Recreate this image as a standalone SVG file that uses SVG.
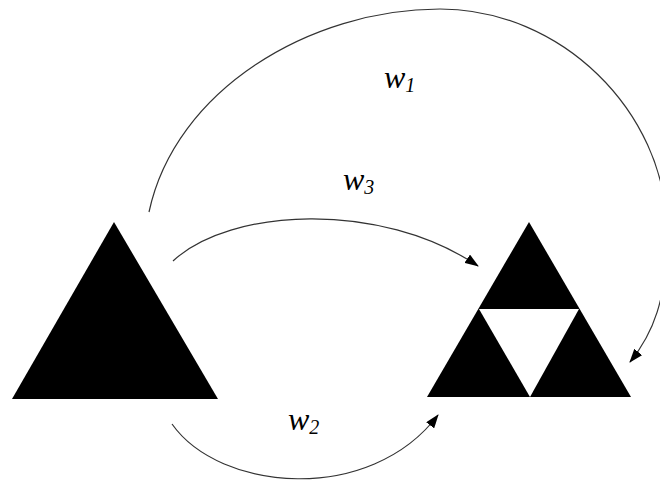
<svg xmlns="http://www.w3.org/2000/svg" width="660" height="484" viewBox="0 0 660 484">
<style>
.tri{fill:#000}
.hole{fill:#fff}
.conn{fill:none;stroke:#333;stroke-width:1.2}
.lbl{font-family:"Liberation Serif",serif;font-style:italic;fill:#000}
.w{font-size:32px}
.sub{font-size:20px}
</style>
<defs>
<marker id="ah" viewBox="0 0 14 10" refX="13" refY="5" markerWidth="14" markerHeight="10" markerUnits="userSpaceOnUse" orient="auto">
<path d="M0,0 L14,5 L0,10 z" fill="#000"/>
</marker>
</defs>
<rect width="660" height="484" fill="#fff"/>
<g id="source">
<polygon class="tri" points="114,222 12,399 218,399"/>
</g>
<g id="target">
<polygon class="tri" points="529,222 427,397 631,397"/>
<polygon class="hole" points="479,309 579,309 530,397"/>
</g>
<g id="connectors">
<path class="conn" marker-end="url(#ah)" d="M149,212 C175,90 310,9 440,9 C560,9 665,110 667,230 C668,300 652,335 630,362"/>
<path class="conn" marker-end="url(#ah)" d="M173,261 C230,208 380,200 478,266"/>
<path class="conn" marker-end="url(#ah)" d="M172,424 C220,492 370,505 438,415"/>
</g>
<g id="labels">
<text class="lbl" x="384" y="88"><tspan class="w">w</tspan><tspan class="sub" dy="4">1</tspan></text>
<text class="lbl" x="343" y="190"><tspan class="w">w</tspan><tspan class="sub" dy="4">3</tspan></text>
<text class="lbl" x="288" y="430"><tspan class="w">w</tspan><tspan class="sub" dy="4">2</tspan></text>
</g>
</svg>
